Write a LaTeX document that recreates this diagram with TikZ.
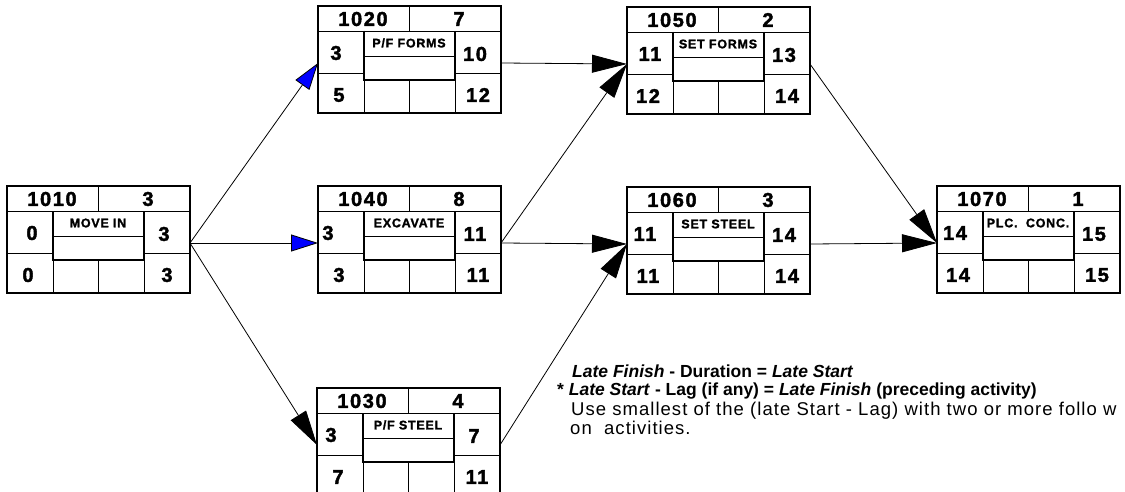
\documentclass[tikz,border=0pt]{standalone}
\usepackage{fontspec}
\setmainfont{Liberation Sans}
\newfontfamily\heavyfont[FakeBold=2,LetterSpace=8]{Liberation Sans Bold}
\newfontfamily\lblfont[FakeBold=1.5,LetterSpace=6]{Liberation Sans Bold}
\newfontfamily\widefont[LetterSpace=5.6]{Liberation Sans}
\usetikzlibrary{arrows.meta,calc}
\tikzset{
  box/.style={draw, line width=1.5pt, minimum width=183pt, minimum height=107pt, inner sep=0pt, outer sep=0pt},
  cell/.style={line width=0.9pt},
  innerbox/.style={line width=1.4pt},
  hdr/.style={font=\heavyfont\fontsize{20}{20}\selectfont, inner sep=0pt},
  num/.style={font=\heavyfont\fontsize{20}{20}\selectfont, inner sep=0pt},
  lbl/.style={font=\lblfont\fontsize{12.5}{12.5}\selectfont, inner sep=0pt},
  conn/.style={line width=0.8pt, -{Triangle[length=35pt,width=18pt]}},
  bconn/.style={line width=0.8pt, -{Triangle[length=27pt,width=17pt,fill=blue]}},
  note/.style={font=\fontsize{17.5}{17.5}\selectfont, inner sep=0pt, anchor=base west},
  rnote/.style={font=\widefont\fontsize{18.5}{18.5}\selectfont, inner sep=0pt, anchor=base west},
}
% #1 name, #2 x, #3 y (top-left), #4 id, #5 duration, #6 label
\newcommand\actbox[6]{%
  \node[box] (#1) at (#2+91.5,#3+53.5) {};
  \begin{scope}[shift={(#1.north west)}]
    \draw[cell] (0,25) -- (183,25);
    \draw[cell] (91.5,0) -- (91.5,25);
    \draw[cell] (46,25) -- (46,107);
    \draw[cell] (137,25) -- (137,107);
    \draw[cell] (0,67) -- (46,67);
    \draw[cell] (137,67) -- (183,67);
    \draw[cell] (46,50) -- (137,50);
    \draw[innerbox] (46,25) -- (46,74) -- (137,74) -- (137,25);
    \draw[cell] (91.5,74) -- (91.5,107);
    \node[hdr] (#1-id) at (45,13) {#4};
    \node[hdr] (#1-dur) at (141,13) {#5};
    \node[lbl] (#1-lbl) at (91,37) {#6};
    \coordinate (#1-in) at (0,57);
    \coordinate (#1-out) at (183,57);
  \end{scope}}
% #1 name, #2 ES, #3 EF, #4 LS, #5 LF, #6 ES x-offset
\newcommand\actnums[6]{%
  \begin{scope}[shift={(#1.north west)}]
    \node[num] (#1-es) at (#6,47) {#2};
    \node[num] (#1-ef) at (157,48) {#3};
    \node[num] (#1-ls) at (21,89) {#4};
    \node[num] (#1-lf) at (160,89) {#5};
  \end{scope}}
\begin{document}
\begin{tikzpicture}[x=1pt,y=-1pt]
  \useasboundingbox (0,0) rectangle (1125,492);
  \actbox{a1010}{7}{186}{1010}{3}{MOVE IN}
  \actnums{a1010}{0}{3}{0}{3}{25}
  \actbox{a1020}{318}{6}{1020}{7}{P/F FORMS}
  \actnums{a1020}{3}{10}{5}{12}{18}
  \actbox{a1040}{318}{186}{1040}{8}{EXCAVATE}
  \actnums{a1040}{3}{11}{3}{11}{10}
  \actbox{a1030}{317}{388}{1030}{4}{P/F STEEL}
  \actnums{a1030}{3}{7}{7}{11}{14}
  \actbox{a1050}{627}{7}{1050}{2}{SET FORMS}
  \actnums{a1050}{11}{13}{12}{14}{23}
  \actbox{a1060}{627}{187}{1060}{3}{SET STEEL}
  \actnums{a1060}{11}{14}{11}{14}{18}
  \actbox{a1070}{937}{186}{1070}{1}{PLC.~~CONC.}
  \actnums{a1070}{14}{15}{14}{15}{18}

  \draw[bconn] (a1010-out) -- (a1020-in);
  \draw[bconn] (a1010-out) -- (a1040-in);
  \draw[conn] (a1010-out) -- (a1030-in);
  \draw[conn] (a1020-out) -- (a1050-in);
  \draw[conn] (a1040-out) -- (a1050-in);
  \draw[conn] (a1040-out) -- (a1060-in);
  \draw[conn] (a1030-out) -- (a1060-in);
  \draw[conn] (a1050-out) -- (a1070-in);
  \draw[conn] (a1060-out) -- (a1070-in);

  \node[note] (n1) at (572,377) {\textbf{\textit{Late Finish} - Duration = \textit{Late Start}}};
  \node[note] (n2) at (557,395) {\textbf{* \textit{Late Start} - Lag (if any) = \textit{Late Finish} (preceding activity)}};
  \node[rnote] (n3) at (571,415) {Use smallest of the (late Start - Lag) with two or more follo w};
  \node[rnote] (n4) at (570,434) {on\ \ activities.};
\end{tikzpicture}
\end{document}
